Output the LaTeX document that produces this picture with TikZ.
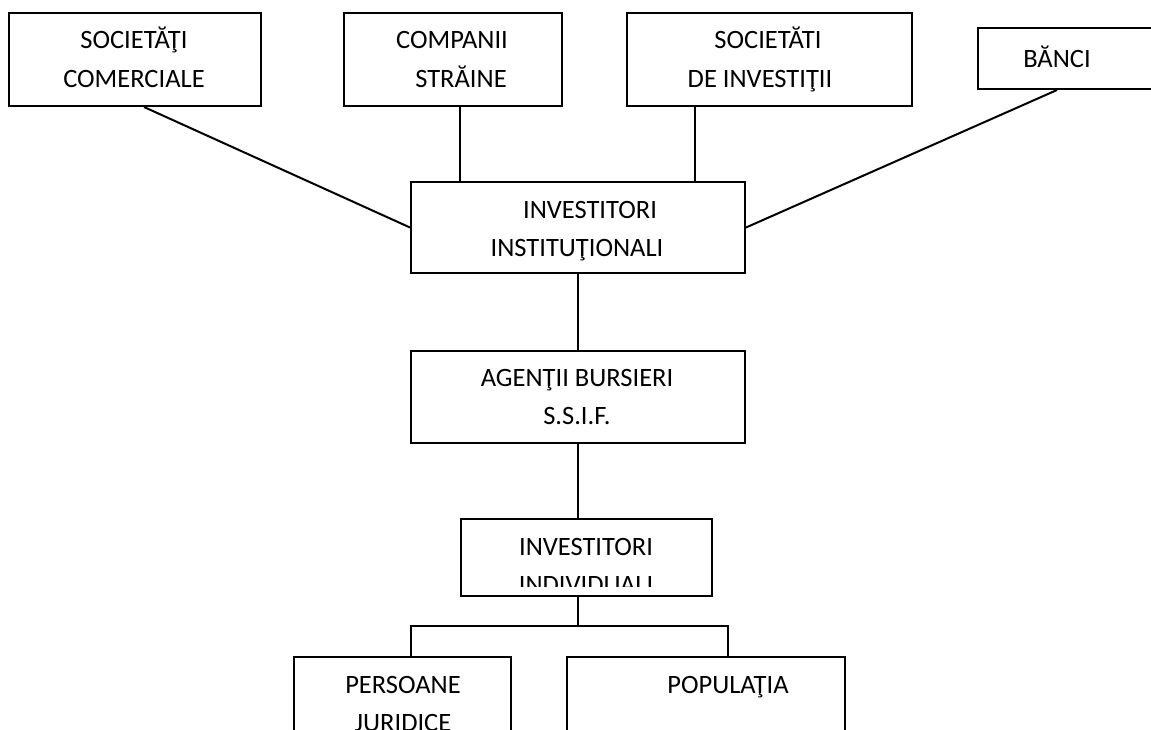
\documentclass[tikz,border=0pt]{standalone}
\usepackage{fontspec}
\setmainfont{Carlito}
\begin{document}
\begin{tikzpicture}[x=1pt,y=-1pt,
  box/.style={draw,line width=2pt,inner sep=0pt,minimum width=#1},
  conn/.style={line width=2pt},
  txt/.style={anchor=base,inner sep=0pt,font=\fontsize{26.5}{38}\selectfont}]
\useasboundingbox (0,0) rectangle (1151,729);
\clip (0,0) rectangle (1151,729);
% boxes
\node[box=252pt,minimum height=93pt] (b1) at (135,59.5) {};
\node[box=218pt,minimum height=93pt] (b2) at (453,59.5) {};
\node[box=285pt,minimum height=93pt] (b3) at (769.5,59.5) {};
\node[box=192pt,minimum height=61pt] (b4) at (1074,58.5) {};
\node[box=334pt,minimum height=91pt] (inst) at (578,227.5) {};
\node[box=334pt,minimum height=92pt] (ag) at (578,397) {};
\node[box=251pt,minimum height=77pt] (ind) at (586.5,557.5) {};
\node[box=217pt,minimum height=103pt] (pj) at (402.5,708.5) {};
\node[box=278pt,minimum height=103pt] (pop) at (706,708.5) {};
% texts
\node[txt] (t1a) at (134,48) {SOCIETĂŢI};
\node[txt] (t1b) at (134,87) {COMERCIALE};
\node[txt] (t2a) at (452,48) {COMPANII};
\node[txt] (t2b) at (461,87) {STRĂINE};
\node[txt] (t3a) at (768,48) {SOCIETĂTI};
\node[txt] (t3b) at (760,87) {DE INVESTIŢII};
\node[txt] (t4) at (1057,67) {BĂNCI};
\node[txt] (t5a) at (590,218) {INVESTITORI};
\node[txt] (t5b) at (577,256) {INSTITUŢIONALI};
\node[txt] (t6a) at (577,386) {AGENŢII BURSIERI};
\node[txt] (t6b) at (577,424) {S.S.I.F.};
\node[txt] (t7a) at (586,555) {INVESTITORI};
\begin{scope}
\clip (461,519) rectangle (712,586);
\node[txt] (t7b) at (586,593) {INDIVIDUALI};
\end{scope}
\node[txt] (t8a) at (403,693) {PERSOANE};
\node[txt] (t8b) at (403,731) {JURIDICE};
\node[txt] (t9) at (728,693) {POPULAŢIA};
% connectors
\draw[conn] ([xshift=9pt]b1.south) -- (inst.west);
\draw[conn] ([xshift=7pt]b2.south) coordinate (c2) -- (c2 |- inst.north);
\draw[conn] ([xshift=-74.5pt]b3.south) coordinate (c3) -- (c3 |- inst.north);
\draw[conn] ([xshift=-17pt]b4.south) -- (inst.east);
\draw[conn] (inst.south) -- (ag.north);
\draw[conn] (ag.south) -- (ag.south |- ind.north);
\coordinate (split) at (578,626);
\coordinate (jl) at (411,626);
\coordinate (jr) at (728,626);
\draw[conn] (split |- ind.south) -- (split);
\draw[conn] (jl |- pj.north) -- (jl) -- (jr) -- (jr |- pop.north);
\end{tikzpicture}
\end{document}
